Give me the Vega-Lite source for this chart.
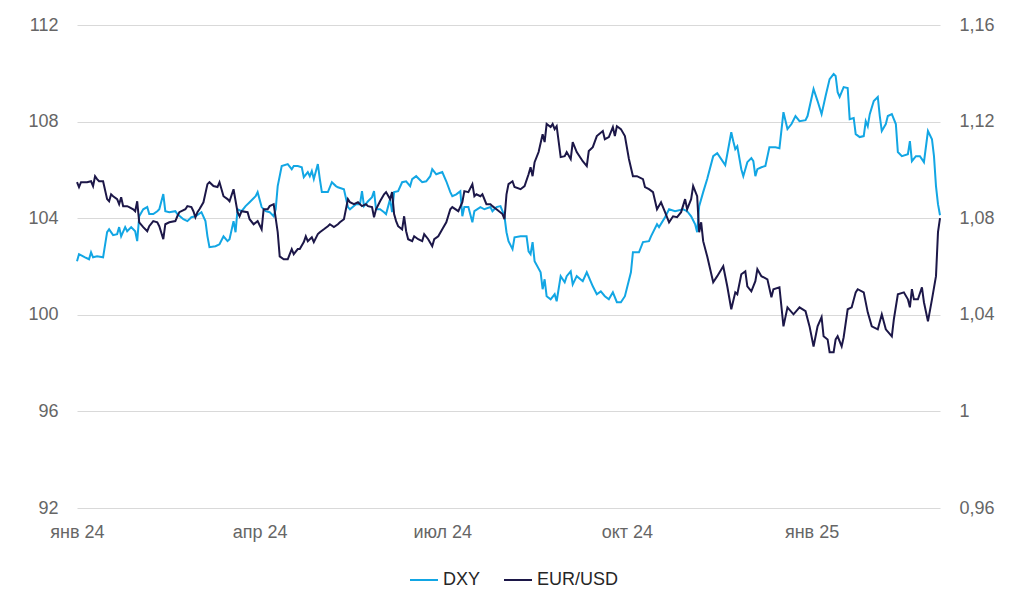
{
  "$schema": "https://vega.github.io/schema/vega-lite/v6.json",
  "width": 863,
  "height": 483,
  "autosize": "none",
  "padding": {"left": 77, "top": 25, "right": 84, "bottom": 95},
  "background": "#ffffff",
  "config": {
    "font": "Liberation Sans",
    "view": {"stroke": null},
    "locale": {
      "number": {"decimal": ",", "thousands": " ", "grouping": [3], "currency": ["", " ₽"]}
    }
  },
  "datasets": {
    "dxy": [
      {"date": "2024-01-01", "series": "DXY", "value": 102.22},
      {"date": "2024-01-02", "series": "DXY", "value": 102.51},
      {"date": "2024-01-05", "series": "DXY", "value": 102.38},
      {"date": "2024-01-07", "series": "DXY", "value": 102.30},
      {"date": "2024-01-08", "series": "DXY", "value": 102.59},
      {"date": "2024-01-09", "series": "DXY", "value": 102.38},
      {"date": "2024-01-11", "series": "DXY", "value": 102.42},
      {"date": "2024-01-14", "series": "DXY", "value": 102.38},
      {"date": "2024-01-16", "series": "DXY", "value": 103.42},
      {"date": "2024-01-17", "series": "DXY", "value": 103.54},
      {"date": "2024-01-19", "series": "DXY", "value": 103.30},
      {"date": "2024-01-21", "series": "DXY", "value": 103.34},
      {"date": "2024-01-22", "series": "DXY", "value": 103.63},
      {"date": "2024-01-23", "series": "DXY", "value": 103.25},
      {"date": "2024-01-25", "series": "DXY", "value": 103.63},
      {"date": "2024-01-26", "series": "DXY", "value": 103.46},
      {"date": "2024-01-28", "series": "DXY", "value": 103.63},
      {"date": "2024-01-30", "series": "DXY", "value": 103.46},
      {"date": "2024-01-31", "series": "DXY", "value": 103.05},
      {"date": "2024-02-01", "series": "DXY", "value": 104.08},
      {"date": "2024-02-03", "series": "DXY", "value": 104.37},
      {"date": "2024-02-05", "series": "DXY", "value": 104.46},
      {"date": "2024-02-06", "series": "DXY", "value": 104.17},
      {"date": "2024-02-08", "series": "DXY", "value": 104.17},
      {"date": "2024-02-10", "series": "DXY", "value": 104.29},
      {"date": "2024-02-11", "series": "DXY", "value": 104.37},
      {"date": "2024-02-13", "series": "DXY", "value": 105.00},
      {"date": "2024-02-14", "series": "DXY", "value": 104.29},
      {"date": "2024-02-16", "series": "DXY", "value": 104.25},
      {"date": "2024-02-19", "series": "DXY", "value": 104.29},
      {"date": "2024-02-20", "series": "DXY", "value": 104.17},
      {"date": "2024-02-23", "series": "DXY", "value": 103.96},
      {"date": "2024-02-25", "series": "DXY", "value": 103.88},
      {"date": "2024-02-27", "series": "DXY", "value": 104.04},
      {"date": "2024-02-29", "series": "DXY", "value": 104.08},
      {"date": "2024-03-03", "series": "DXY", "value": 104.25},
      {"date": "2024-03-05", "series": "DXY", "value": 103.88},
      {"date": "2024-03-06", "series": "DXY", "value": 103.25},
      {"date": "2024-03-07", "series": "DXY", "value": 102.80},
      {"date": "2024-03-10", "series": "DXY", "value": 102.84},
      {"date": "2024-03-12", "series": "DXY", "value": 102.92},
      {"date": "2024-03-14", "series": "DXY", "value": 103.25},
      {"date": "2024-03-16", "series": "DXY", "value": 103.05},
      {"date": "2024-03-17", "series": "DXY", "value": 103.13},
      {"date": "2024-03-19", "series": "DXY", "value": 103.88},
      {"date": "2024-03-20", "series": "DXY", "value": 103.42},
      {"date": "2024-03-21", "series": "DXY", "value": 104.37},
      {"date": "2024-03-23", "series": "DXY", "value": 104.29},
      {"date": "2024-03-25", "series": "DXY", "value": 104.50},
      {"date": "2024-03-27", "series": "DXY", "value": 104.66},
      {"date": "2024-03-30", "series": "DXY", "value": 104.91},
      {"date": "2024-03-31", "series": "DXY", "value": 105.08},
      {"date": "2024-04-02", "series": "DXY", "value": 104.46},
      {"date": "2024-04-04", "series": "DXY", "value": 104.29},
      {"date": "2024-04-06", "series": "DXY", "value": 104.25},
      {"date": "2024-04-08", "series": "DXY", "value": 104.08},
      {"date": "2024-04-09", "series": "DXY", "value": 104.37},
      {"date": "2024-04-10", "series": "DXY", "value": 105.33},
      {"date": "2024-04-12", "series": "DXY", "value": 106.16},
      {"date": "2024-04-15", "series": "DXY", "value": 106.24},
      {"date": "2024-04-17", "series": "DXY", "value": 106.03},
      {"date": "2024-04-18", "series": "DXY", "value": 106.16},
      {"date": "2024-04-20", "series": "DXY", "value": 106.16},
      {"date": "2024-04-22", "series": "DXY", "value": 106.11},
      {"date": "2024-04-23", "series": "DXY", "value": 105.70},
      {"date": "2024-04-25", "series": "DXY", "value": 105.91},
      {"date": "2024-04-26", "series": "DXY", "value": 105.74},
      {"date": "2024-04-27", "series": "DXY", "value": 105.95},
      {"date": "2024-04-28", "series": "DXY", "value": 105.62},
      {"date": "2024-04-30", "series": "DXY", "value": 106.24},
      {"date": "2024-05-01", "series": "DXY", "value": 105.62},
      {"date": "2024-05-02", "series": "DXY", "value": 105.08},
      {"date": "2024-05-05", "series": "DXY", "value": 105.08},
      {"date": "2024-05-07", "series": "DXY", "value": 105.49},
      {"date": "2024-05-09", "series": "DXY", "value": 105.33},
      {"date": "2024-05-10", "series": "DXY", "value": 105.28},
      {"date": "2024-05-13", "series": "DXY", "value": 105.20},
      {"date": "2024-05-15", "series": "DXY", "value": 104.46},
      {"date": "2024-05-16", "series": "DXY", "value": 104.37},
      {"date": "2024-05-19", "series": "DXY", "value": 104.58},
      {"date": "2024-05-21", "series": "DXY", "value": 104.58},
      {"date": "2024-05-22", "series": "DXY", "value": 105.12},
      {"date": "2024-05-23", "series": "DXY", "value": 104.50},
      {"date": "2024-05-25", "series": "DXY", "value": 104.70},
      {"date": "2024-05-27", "series": "DXY", "value": 104.87},
      {"date": "2024-05-28", "series": "DXY", "value": 105.12},
      {"date": "2024-05-29", "series": "DXY", "value": 104.37},
      {"date": "2024-05-31", "series": "DXY", "value": 104.37},
      {"date": "2024-06-02", "series": "DXY", "value": 104.25},
      {"date": "2024-06-03", "series": "DXY", "value": 104.17},
      {"date": "2024-06-05", "series": "DXY", "value": 104.79},
      {"date": "2024-06-06", "series": "DXY", "value": 104.25},
      {"date": "2024-06-07", "series": "DXY", "value": 105.08},
      {"date": "2024-06-09", "series": "DXY", "value": 105.12},
      {"date": "2024-06-11", "series": "DXY", "value": 105.49},
      {"date": "2024-06-13", "series": "DXY", "value": 105.53},
      {"date": "2024-06-15", "series": "DXY", "value": 105.33},
      {"date": "2024-06-16", "series": "DXY", "value": 105.62},
      {"date": "2024-06-18", "series": "DXY", "value": 105.74},
      {"date": "2024-06-21", "series": "DXY", "value": 105.49},
      {"date": "2024-06-23", "series": "DXY", "value": 105.53},
      {"date": "2024-06-25", "series": "DXY", "value": 105.74},
      {"date": "2024-06-26", "series": "DXY", "value": 106.03},
      {"date": "2024-06-28", "series": "DXY", "value": 105.82},
      {"date": "2024-07-01", "series": "DXY", "value": 105.91},
      {"date": "2024-07-03", "series": "DXY", "value": 105.53},
      {"date": "2024-07-05", "series": "DXY", "value": 105.08},
      {"date": "2024-07-06", "series": "DXY", "value": 104.91},
      {"date": "2024-07-08", "series": "DXY", "value": 104.99},
      {"date": "2024-07-10", "series": "DXY", "value": 105.12},
      {"date": "2024-07-11", "series": "DXY", "value": 104.08},
      {"date": "2024-07-12", "series": "DXY", "value": 104.46},
      {"date": "2024-07-14", "series": "DXY", "value": 104.46},
      {"date": "2024-07-16", "series": "DXY", "value": 103.83},
      {"date": "2024-07-17", "series": "DXY", "value": 104.29},
      {"date": "2024-07-20", "series": "DXY", "value": 104.46},
      {"date": "2024-07-22", "series": "DXY", "value": 104.37},
      {"date": "2024-07-25", "series": "DXY", "value": 104.46},
      {"date": "2024-07-26", "series": "DXY", "value": 104.29},
      {"date": "2024-07-28", "series": "DXY", "value": 104.46},
      {"date": "2024-07-30", "series": "DXY", "value": 104.50},
      {"date": "2024-07-31", "series": "DXY", "value": 104.29},
      {"date": "2024-08-01", "series": "DXY", "value": 104.08},
      {"date": "2024-08-02", "series": "DXY", "value": 103.42},
      {"date": "2024-08-03", "series": "DXY", "value": 103.05},
      {"date": "2024-08-05", "series": "DXY", "value": 102.72},
      {"date": "2024-08-06", "series": "DXY", "value": 103.21},
      {"date": "2024-08-09", "series": "DXY", "value": 103.25},
      {"date": "2024-08-12", "series": "DXY", "value": 103.25},
      {"date": "2024-08-13", "series": "DXY", "value": 102.63},
      {"date": "2024-08-14", "series": "DXY", "value": 102.51},
      {"date": "2024-08-15", "series": "DXY", "value": 103.01},
      {"date": "2024-08-16", "series": "DXY", "value": 102.22},
      {"date": "2024-08-19", "series": "DXY", "value": 101.76},
      {"date": "2024-08-20", "series": "DXY", "value": 101.06},
      {"date": "2024-08-21", "series": "DXY", "value": 101.47},
      {"date": "2024-08-22", "series": "DXY", "value": 100.77},
      {"date": "2024-08-24", "series": "DXY", "value": 100.64},
      {"date": "2024-08-26", "series": "DXY", "value": 100.85},
      {"date": "2024-08-27", "series": "DXY", "value": 100.56},
      {"date": "2024-08-29", "series": "DXY", "value": 101.60},
      {"date": "2024-08-31", "series": "DXY", "value": 101.35},
      {"date": "2024-09-01", "series": "DXY", "value": 101.60},
      {"date": "2024-09-03", "series": "DXY", "value": 101.80},
      {"date": "2024-09-04", "series": "DXY", "value": 101.26},
      {"date": "2024-09-06", "series": "DXY", "value": 101.60},
      {"date": "2024-09-09", "series": "DXY", "value": 101.39},
      {"date": "2024-09-11", "series": "DXY", "value": 101.76},
      {"date": "2024-09-14", "series": "DXY", "value": 101.18},
      {"date": "2024-09-16", "series": "DXY", "value": 100.85},
      {"date": "2024-09-18", "series": "DXY", "value": 100.97},
      {"date": "2024-09-20", "series": "DXY", "value": 100.77},
      {"date": "2024-09-22", "series": "DXY", "value": 100.64},
      {"date": "2024-09-24", "series": "DXY", "value": 100.93},
      {"date": "2024-09-26", "series": "DXY", "value": 100.52},
      {"date": "2024-09-28", "series": "DXY", "value": 100.52},
      {"date": "2024-09-30", "series": "DXY", "value": 100.77},
      {"date": "2024-10-03", "series": "DXY", "value": 101.76},
      {"date": "2024-10-04", "series": "DXY", "value": 102.59},
      {"date": "2024-10-07", "series": "DXY", "value": 102.59},
      {"date": "2024-10-09", "series": "DXY", "value": 103.01},
      {"date": "2024-10-12", "series": "DXY", "value": 103.05},
      {"date": "2024-10-13", "series": "DXY", "value": 103.25},
      {"date": "2024-10-16", "series": "DXY", "value": 103.75},
      {"date": "2024-10-17", "series": "DXY", "value": 103.63},
      {"date": "2024-10-20", "series": "DXY", "value": 104.04},
      {"date": "2024-10-22", "series": "DXY", "value": 104.37},
      {"date": "2024-10-25", "series": "DXY", "value": 104.29},
      {"date": "2024-10-29", "series": "DXY", "value": 104.37},
      {"date": "2024-10-31", "series": "DXY", "value": 104.29},
      {"date": "2024-11-02", "series": "DXY", "value": 104.08},
      {"date": "2024-11-04", "series": "DXY", "value": 103.75},
      {"date": "2024-11-05", "series": "DXY", "value": 103.42},
      {"date": "2024-11-06", "series": "DXY", "value": 104.50},
      {"date": "2024-11-08", "series": "DXY", "value": 105.08},
      {"date": "2024-11-10", "series": "DXY", "value": 105.62},
      {"date": "2024-11-13", "series": "DXY", "value": 106.57},
      {"date": "2024-11-15", "series": "DXY", "value": 106.69},
      {"date": "2024-11-19", "series": "DXY", "value": 106.20},
      {"date": "2024-11-20", "series": "DXY", "value": 106.65},
      {"date": "2024-11-22", "series": "DXY", "value": 107.56},
      {"date": "2024-11-23", "series": "DXY", "value": 107.19},
      {"date": "2024-11-24", "series": "DXY", "value": 106.86},
      {"date": "2024-11-25", "series": "DXY", "value": 106.98},
      {"date": "2024-11-27", "series": "DXY", "value": 106.03},
      {"date": "2024-11-28", "series": "DXY", "value": 105.74},
      {"date": "2024-11-30", "series": "DXY", "value": 106.32},
      {"date": "2024-12-02", "series": "DXY", "value": 106.49},
      {"date": "2024-12-03", "series": "DXY", "value": 106.36},
      {"date": "2024-12-04", "series": "DXY", "value": 105.74},
      {"date": "2024-12-05", "series": "DXY", "value": 106.03},
      {"date": "2024-12-07", "series": "DXY", "value": 106.11},
      {"date": "2024-12-09", "series": "DXY", "value": 106.16},
      {"date": "2024-12-11", "series": "DXY", "value": 106.94},
      {"date": "2024-12-14", "series": "DXY", "value": 106.94},
      {"date": "2024-12-16", "series": "DXY", "value": 106.90},
      {"date": "2024-12-18", "series": "DXY", "value": 108.39},
      {"date": "2024-12-20", "series": "DXY", "value": 107.69},
      {"date": "2024-12-22", "series": "DXY", "value": 107.90},
      {"date": "2024-12-24", "series": "DXY", "value": 108.23},
      {"date": "2024-12-26", "series": "DXY", "value": 108.02},
      {"date": "2024-12-29", "series": "DXY", "value": 108.06},
      {"date": "2024-12-30", "series": "DXY", "value": 108.23},
      {"date": "2025-01-02", "series": "DXY", "value": 109.35},
      {"date": "2025-01-04", "series": "DXY", "value": 108.85},
      {"date": "2025-01-06", "series": "DXY", "value": 108.31},
      {"date": "2025-01-08", "series": "DXY", "value": 109.06},
      {"date": "2025-01-10", "series": "DXY", "value": 109.76},
      {"date": "2025-01-12", "series": "DXY", "value": 109.97},
      {"date": "2025-01-13", "series": "DXY", "value": 109.89},
      {"date": "2025-01-14", "series": "DXY", "value": 109.22},
      {"date": "2025-01-15", "series": "DXY", "value": 109.02},
      {"date": "2025-01-17", "series": "DXY", "value": 109.43},
      {"date": "2025-01-19", "series": "DXY", "value": 109.39},
      {"date": "2025-01-20", "series": "DXY", "value": 108.10},
      {"date": "2025-01-22", "series": "DXY", "value": 108.15},
      {"date": "2025-01-23", "series": "DXY", "value": 107.48},
      {"date": "2025-01-25", "series": "DXY", "value": 107.36},
      {"date": "2025-01-27", "series": "DXY", "value": 107.40},
      {"date": "2025-01-28", "series": "DXY", "value": 108.02},
      {"date": "2025-01-29", "series": "DXY", "value": 107.81},
      {"date": "2025-01-30", "series": "DXY", "value": 108.31},
      {"date": "2025-02-01", "series": "DXY", "value": 108.85},
      {"date": "2025-02-03", "series": "DXY", "value": 109.02},
      {"date": "2025-02-04", "series": "DXY", "value": 108.23},
      {"date": "2025-02-05", "series": "DXY", "value": 107.61},
      {"date": "2025-02-07", "series": "DXY", "value": 107.90},
      {"date": "2025-02-08", "series": "DXY", "value": 108.23},
      {"date": "2025-02-10", "series": "DXY", "value": 108.31},
      {"date": "2025-02-12", "series": "DXY", "value": 107.90},
      {"date": "2025-02-13", "series": "DXY", "value": 106.74},
      {"date": "2025-02-15", "series": "DXY", "value": 106.57},
      {"date": "2025-02-18", "series": "DXY", "value": 106.65},
      {"date": "2025-02-19", "series": "DXY", "value": 107.19},
      {"date": "2025-02-20", "series": "DXY", "value": 106.36},
      {"date": "2025-02-22", "series": "DXY", "value": 106.57},
      {"date": "2025-02-24", "series": "DXY", "value": 106.57},
      {"date": "2025-02-26", "series": "DXY", "value": 106.32},
      {"date": "2025-02-28", "series": "DXY", "value": 107.61},
      {"date": "2025-03-02", "series": "DXY", "value": 107.27},
      {"date": "2025-03-03", "series": "DXY", "value": 106.57},
      {"date": "2025-03-04", "series": "DXY", "value": 105.33},
      {"date": "2025-03-05", "series": "DXY", "value": 104.58},
      {"date": "2025-03-06", "series": "DXY", "value": 104.12}
    ],
    "eurusd": [
      {"date": "2024-01-01", "series": "EUR/USD", "value": 1.0949},
      {"date": "2024-01-02", "series": "EUR/USD", "value": 1.0929},
      {"date": "2024-01-03", "series": "EUR/USD", "value": 1.0949},
      {"date": "2024-01-06", "series": "EUR/USD", "value": 1.0949},
      {"date": "2024-01-08", "series": "EUR/USD", "value": 1.0953},
      {"date": "2024-01-09", "series": "EUR/USD", "value": 1.0933},
      {"date": "2024-01-10", "series": "EUR/USD", "value": 1.0974},
      {"date": "2024-01-11", "series": "EUR/USD", "value": 1.0962},
      {"date": "2024-01-12", "series": "EUR/USD", "value": 1.0953},
      {"date": "2024-01-14", "series": "EUR/USD", "value": 1.0953},
      {"date": "2024-01-16", "series": "EUR/USD", "value": 1.0879},
      {"date": "2024-01-17", "series": "EUR/USD", "value": 1.0870},
      {"date": "2024-01-18", "series": "EUR/USD", "value": 1.0899},
      {"date": "2024-01-19", "series": "EUR/USD", "value": 1.0891},
      {"date": "2024-01-21", "series": "EUR/USD", "value": 1.0879},
      {"date": "2024-01-22", "series": "EUR/USD", "value": 1.0858},
      {"date": "2024-01-23", "series": "EUR/USD", "value": 1.0887},
      {"date": "2024-01-24", "series": "EUR/USD", "value": 1.0850},
      {"date": "2024-01-26", "series": "EUR/USD", "value": 1.0850},
      {"date": "2024-01-27", "series": "EUR/USD", "value": 1.0846},
      {"date": "2024-01-29", "series": "EUR/USD", "value": 1.0837},
      {"date": "2024-01-30", "series": "EUR/USD", "value": 1.0829},
      {"date": "2024-01-31", "series": "EUR/USD", "value": 1.0870},
      {"date": "2024-02-01", "series": "EUR/USD", "value": 1.0783},
      {"date": "2024-02-03", "series": "EUR/USD", "value": 1.0763},
      {"date": "2024-02-05", "series": "EUR/USD", "value": 1.0746},
      {"date": "2024-02-06", "series": "EUR/USD", "value": 1.0767},
      {"date": "2024-02-08", "series": "EUR/USD", "value": 1.0788},
      {"date": "2024-02-10", "series": "EUR/USD", "value": 1.0783},
      {"date": "2024-02-11", "series": "EUR/USD", "value": 1.0767},
      {"date": "2024-02-13", "series": "EUR/USD", "value": 1.0713},
      {"date": "2024-02-14", "series": "EUR/USD", "value": 1.0775},
      {"date": "2024-02-16", "series": "EUR/USD", "value": 1.0783},
      {"date": "2024-02-19", "series": "EUR/USD", "value": 1.0788},
      {"date": "2024-02-20", "series": "EUR/USD", "value": 1.0808},
      {"date": "2024-02-21", "series": "EUR/USD", "value": 1.0825},
      {"date": "2024-02-24", "series": "EUR/USD", "value": 1.0837},
      {"date": "2024-02-25", "series": "EUR/USD", "value": 1.0850},
      {"date": "2024-02-27", "series": "EUR/USD", "value": 1.0846},
      {"date": "2024-02-28", "series": "EUR/USD", "value": 1.0829},
      {"date": "2024-02-29", "series": "EUR/USD", "value": 1.0804},
      {"date": "2024-03-01", "series": "EUR/USD", "value": 1.0825},
      {"date": "2024-03-02", "series": "EUR/USD", "value": 1.0837},
      {"date": "2024-03-04", "series": "EUR/USD", "value": 1.0866},
      {"date": "2024-03-06", "series": "EUR/USD", "value": 1.0941},
      {"date": "2024-03-07", "series": "EUR/USD", "value": 1.0949},
      {"date": "2024-03-09", "series": "EUR/USD", "value": 1.0933},
      {"date": "2024-03-11", "series": "EUR/USD", "value": 1.0929},
      {"date": "2024-03-12", "series": "EUR/USD", "value": 1.0949},
      {"date": "2024-03-14", "series": "EUR/USD", "value": 1.0891},
      {"date": "2024-03-16", "series": "EUR/USD", "value": 1.0879},
      {"date": "2024-03-17", "series": "EUR/USD", "value": 1.0870},
      {"date": "2024-03-19", "series": "EUR/USD", "value": 1.0920},
      {"date": "2024-03-21", "series": "EUR/USD", "value": 1.0825},
      {"date": "2024-03-22", "series": "EUR/USD", "value": 1.0808},
      {"date": "2024-03-23", "series": "EUR/USD", "value": 1.0829},
      {"date": "2024-03-26", "series": "EUR/USD", "value": 1.0825},
      {"date": "2024-03-27", "series": "EUR/USD", "value": 1.0796},
      {"date": "2024-03-29", "series": "EUR/USD", "value": 1.0775},
      {"date": "2024-03-31", "series": "EUR/USD", "value": 1.0788},
      {"date": "2024-04-02", "series": "EUR/USD", "value": 1.0754},
      {"date": "2024-04-03", "series": "EUR/USD", "value": 1.0837},
      {"date": "2024-04-05", "series": "EUR/USD", "value": 1.0837},
      {"date": "2024-04-06", "series": "EUR/USD", "value": 1.0850},
      {"date": "2024-04-08", "series": "EUR/USD", "value": 1.0858},
      {"date": "2024-04-10", "series": "EUR/USD", "value": 1.0742},
      {"date": "2024-04-11", "series": "EUR/USD", "value": 1.0642},
      {"date": "2024-04-13", "series": "EUR/USD", "value": 1.0630},
      {"date": "2024-04-15", "series": "EUR/USD", "value": 1.0630},
      {"date": "2024-04-17", "series": "EUR/USD", "value": 1.0672},
      {"date": "2024-04-18", "series": "EUR/USD", "value": 1.0651},
      {"date": "2024-04-20", "series": "EUR/USD", "value": 1.0672},
      {"date": "2024-04-21", "series": "EUR/USD", "value": 1.0672},
      {"date": "2024-04-23", "series": "EUR/USD", "value": 1.0701},
      {"date": "2024-04-24", "series": "EUR/USD", "value": 1.0725},
      {"date": "2024-04-25", "series": "EUR/USD", "value": 1.0705},
      {"date": "2024-04-27", "series": "EUR/USD", "value": 1.0721},
      {"date": "2024-04-28", "series": "EUR/USD", "value": 1.0701},
      {"date": "2024-04-30", "series": "EUR/USD", "value": 1.0734},
      {"date": "2024-05-01", "series": "EUR/USD", "value": 1.0742},
      {"date": "2024-05-03", "series": "EUR/USD", "value": 1.0754},
      {"date": "2024-05-05", "series": "EUR/USD", "value": 1.0767},
      {"date": "2024-05-06", "series": "EUR/USD", "value": 1.0775},
      {"date": "2024-05-08", "series": "EUR/USD", "value": 1.0763},
      {"date": "2024-05-10", "series": "EUR/USD", "value": 1.0775},
      {"date": "2024-05-11", "series": "EUR/USD", "value": 1.0783},
      {"date": "2024-05-13", "series": "EUR/USD", "value": 1.0796},
      {"date": "2024-05-15", "series": "EUR/USD", "value": 1.0879},
      {"date": "2024-05-16", "series": "EUR/USD", "value": 1.0866},
      {"date": "2024-05-18", "series": "EUR/USD", "value": 1.0858},
      {"date": "2024-05-20", "series": "EUR/USD", "value": 1.0866},
      {"date": "2024-05-22", "series": "EUR/USD", "value": 1.0850},
      {"date": "2024-05-24", "series": "EUR/USD", "value": 1.0858},
      {"date": "2024-05-25", "series": "EUR/USD", "value": 1.0850},
      {"date": "2024-05-27", "series": "EUR/USD", "value": 1.0846},
      {"date": "2024-05-28", "series": "EUR/USD", "value": 1.0804},
      {"date": "2024-05-29", "series": "EUR/USD", "value": 1.0837},
      {"date": "2024-05-31", "series": "EUR/USD", "value": 1.0870},
      {"date": "2024-06-02", "series": "EUR/USD", "value": 1.0899},
      {"date": "2024-06-03", "series": "EUR/USD", "value": 1.0908},
      {"date": "2024-06-05", "series": "EUR/USD", "value": 1.0879},
      {"date": "2024-06-06", "series": "EUR/USD", "value": 1.0908},
      {"date": "2024-06-07", "series": "EUR/USD", "value": 1.0817},
      {"date": "2024-06-08", "series": "EUR/USD", "value": 1.0788},
      {"date": "2024-06-09", "series": "EUR/USD", "value": 1.0767},
      {"date": "2024-06-11", "series": "EUR/USD", "value": 1.0754},
      {"date": "2024-06-12", "series": "EUR/USD", "value": 1.0808},
      {"date": "2024-06-13", "series": "EUR/USD", "value": 1.0746},
      {"date": "2024-06-14", "series": "EUR/USD", "value": 1.0713},
      {"date": "2024-06-16", "series": "EUR/USD", "value": 1.0705},
      {"date": "2024-06-17", "series": "EUR/USD", "value": 1.0725},
      {"date": "2024-06-19", "series": "EUR/USD", "value": 1.0713},
      {"date": "2024-06-21", "series": "EUR/USD", "value": 1.0705},
      {"date": "2024-06-22", "series": "EUR/USD", "value": 1.0734},
      {"date": "2024-06-24", "series": "EUR/USD", "value": 1.0713},
      {"date": "2024-06-26", "series": "EUR/USD", "value": 1.0684},
      {"date": "2024-06-27", "series": "EUR/USD", "value": 1.0713},
      {"date": "2024-06-29", "series": "EUR/USD", "value": 1.0725},
      {"date": "2024-07-01", "series": "EUR/USD", "value": 1.0754},
      {"date": "2024-07-03", "series": "EUR/USD", "value": 1.0783},
      {"date": "2024-07-05", "series": "EUR/USD", "value": 1.0837},
      {"date": "2024-07-06", "series": "EUR/USD", "value": 1.0846},
      {"date": "2024-07-09", "series": "EUR/USD", "value": 1.0829},
      {"date": "2024-07-11", "series": "EUR/USD", "value": 1.0866},
      {"date": "2024-07-12", "series": "EUR/USD", "value": 1.0912},
      {"date": "2024-07-14", "series": "EUR/USD", "value": 1.0908},
      {"date": "2024-07-16", "series": "EUR/USD", "value": 1.0941},
      {"date": "2024-07-17", "series": "EUR/USD", "value": 1.0891},
      {"date": "2024-07-18", "series": "EUR/USD", "value": 1.0899},
      {"date": "2024-07-20", "series": "EUR/USD", "value": 1.0891},
      {"date": "2024-07-21", "series": "EUR/USD", "value": 1.0899},
      {"date": "2024-07-23", "series": "EUR/USD", "value": 1.0858},
      {"date": "2024-07-25", "series": "EUR/USD", "value": 1.0858},
      {"date": "2024-07-26", "series": "EUR/USD", "value": 1.0850},
      {"date": "2024-07-28", "series": "EUR/USD", "value": 1.0837},
      {"date": "2024-07-31", "series": "EUR/USD", "value": 1.0817},
      {"date": "2024-08-01", "series": "EUR/USD", "value": 1.0796},
      {"date": "2024-08-02", "series": "EUR/USD", "value": 1.0899},
      {"date": "2024-08-03", "series": "EUR/USD", "value": 1.0941},
      {"date": "2024-08-05", "series": "EUR/USD", "value": 1.0953},
      {"date": "2024-08-06", "series": "EUR/USD", "value": 1.0929},
      {"date": "2024-08-09", "series": "EUR/USD", "value": 1.0920},
      {"date": "2024-08-11", "series": "EUR/USD", "value": 1.0933},
      {"date": "2024-08-13", "series": "EUR/USD", "value": 1.0982},
      {"date": "2024-08-14", "series": "EUR/USD", "value": 1.1011},
      {"date": "2024-08-15", "series": "EUR/USD", "value": 1.0974},
      {"date": "2024-08-16", "series": "EUR/USD", "value": 1.1032},
      {"date": "2024-08-18", "series": "EUR/USD", "value": 1.1074},
      {"date": "2024-08-20", "series": "EUR/USD", "value": 1.1148},
      {"date": "2024-08-21", "series": "EUR/USD", "value": 1.1115},
      {"date": "2024-08-22", "series": "EUR/USD", "value": 1.1190},
      {"date": "2024-08-24", "series": "EUR/USD", "value": 1.1177},
      {"date": "2024-08-25", "series": "EUR/USD", "value": 1.1190},
      {"date": "2024-08-26", "series": "EUR/USD", "value": 1.1169},
      {"date": "2024-08-27", "series": "EUR/USD", "value": 1.1181},
      {"date": "2024-08-29", "series": "EUR/USD", "value": 1.1053},
      {"date": "2024-08-31", "series": "EUR/USD", "value": 1.1057},
      {"date": "2024-09-01", "series": "EUR/USD", "value": 1.1074},
      {"date": "2024-09-03", "series": "EUR/USD", "value": 1.1045},
      {"date": "2024-09-04", "series": "EUR/USD", "value": 1.1115},
      {"date": "2024-09-06", "series": "EUR/USD", "value": 1.1074},
      {"date": "2024-09-09", "series": "EUR/USD", "value": 1.1036},
      {"date": "2024-09-11", "series": "EUR/USD", "value": 1.1016},
      {"date": "2024-09-12", "series": "EUR/USD", "value": 1.1078},
      {"date": "2024-09-14", "series": "EUR/USD", "value": 1.1094},
      {"date": "2024-09-16", "series": "EUR/USD", "value": 1.1140},
      {"date": "2024-09-19", "series": "EUR/USD", "value": 1.1161},
      {"date": "2024-09-20", "series": "EUR/USD", "value": 1.1127},
      {"date": "2024-09-22", "series": "EUR/USD", "value": 1.1136},
      {"date": "2024-09-24", "series": "EUR/USD", "value": 1.1177},
      {"date": "2024-09-25", "series": "EUR/USD", "value": 1.1140},
      {"date": "2024-09-26", "series": "EUR/USD", "value": 1.1181},
      {"date": "2024-09-28", "series": "EUR/USD", "value": 1.1169},
      {"date": "2024-09-30", "series": "EUR/USD", "value": 1.1140},
      {"date": "2024-10-02", "series": "EUR/USD", "value": 1.1045},
      {"date": "2024-10-04", "series": "EUR/USD", "value": 1.0974},
      {"date": "2024-10-06", "series": "EUR/USD", "value": 1.0974},
      {"date": "2024-10-09", "series": "EUR/USD", "value": 1.0962},
      {"date": "2024-10-10", "series": "EUR/USD", "value": 1.0929},
      {"date": "2024-10-12", "series": "EUR/USD", "value": 1.0920},
      {"date": "2024-10-14", "series": "EUR/USD", "value": 1.0908},
      {"date": "2024-10-16", "series": "EUR/USD", "value": 1.0837},
      {"date": "2024-10-18", "series": "EUR/USD", "value": 1.0866},
      {"date": "2024-10-20", "series": "EUR/USD", "value": 1.0825},
      {"date": "2024-10-22", "series": "EUR/USD", "value": 1.0783},
      {"date": "2024-10-24", "series": "EUR/USD", "value": 1.0808},
      {"date": "2024-10-26", "series": "EUR/USD", "value": 1.0804},
      {"date": "2024-10-28", "series": "EUR/USD", "value": 1.0825},
      {"date": "2024-10-30", "series": "EUR/USD", "value": 1.0879},
      {"date": "2024-10-31", "series": "EUR/USD", "value": 1.0837},
      {"date": "2024-11-02", "series": "EUR/USD", "value": 1.0879},
      {"date": "2024-11-03", "series": "EUR/USD", "value": 1.0933},
      {"date": "2024-11-05", "series": "EUR/USD", "value": 1.0891},
      {"date": "2024-11-06", "series": "EUR/USD", "value": 1.0742},
      {"date": "2024-11-07", "series": "EUR/USD", "value": 1.0783},
      {"date": "2024-11-08", "series": "EUR/USD", "value": 1.0705},
      {"date": "2024-11-10", "series": "EUR/USD", "value": 1.0642},
      {"date": "2024-11-13", "series": "EUR/USD", "value": 1.0535},
      {"date": "2024-11-15", "series": "EUR/USD", "value": 1.0560},
      {"date": "2024-11-18", "series": "EUR/USD", "value": 1.0601},
      {"date": "2024-11-20", "series": "EUR/USD", "value": 1.0518},
      {"date": "2024-11-22", "series": "EUR/USD", "value": 1.0423},
      {"date": "2024-11-24", "series": "EUR/USD", "value": 1.0493},
      {"date": "2024-11-25", "series": "EUR/USD", "value": 1.0485},
      {"date": "2024-11-27", "series": "EUR/USD", "value": 1.0568},
      {"date": "2024-11-29", "series": "EUR/USD", "value": 1.0580},
      {"date": "2024-11-30", "series": "EUR/USD", "value": 1.0518},
      {"date": "2024-12-02", "series": "EUR/USD", "value": 1.0497},
      {"date": "2024-12-04", "series": "EUR/USD", "value": 1.0539},
      {"date": "2024-12-05", "series": "EUR/USD", "value": 1.0589},
      {"date": "2024-12-07", "series": "EUR/USD", "value": 1.0560},
      {"date": "2024-12-10", "series": "EUR/USD", "value": 1.0547},
      {"date": "2024-12-12", "series": "EUR/USD", "value": 1.0473},
      {"date": "2024-12-13", "series": "EUR/USD", "value": 1.0506},
      {"date": "2024-12-16", "series": "EUR/USD", "value": 1.0514},
      {"date": "2024-12-18", "series": "EUR/USD", "value": 1.0352},
      {"date": "2024-12-20", "series": "EUR/USD", "value": 1.0431},
      {"date": "2024-12-23", "series": "EUR/USD", "value": 1.0402},
      {"date": "2024-12-26", "series": "EUR/USD", "value": 1.0431},
      {"date": "2024-12-29", "series": "EUR/USD", "value": 1.0415},
      {"date": "2024-12-31", "series": "EUR/USD", "value": 1.0352},
      {"date": "2025-01-02", "series": "EUR/USD", "value": 1.0269},
      {"date": "2025-01-04", "series": "EUR/USD", "value": 1.0352},
      {"date": "2025-01-06", "series": "EUR/USD", "value": 1.0390},
      {"date": "2025-01-07", "series": "EUR/USD", "value": 1.0311},
      {"date": "2025-01-09", "series": "EUR/USD", "value": 1.0298},
      {"date": "2025-01-10", "series": "EUR/USD", "value": 1.0245},
      {"date": "2025-01-12", "series": "EUR/USD", "value": 1.0245},
      {"date": "2025-01-13", "series": "EUR/USD", "value": 1.0298},
      {"date": "2025-01-14", "series": "EUR/USD", "value": 1.0311},
      {"date": "2025-01-16", "series": "EUR/USD", "value": 1.0269},
      {"date": "2025-01-17", "series": "EUR/USD", "value": 1.0307},
      {"date": "2025-01-19", "series": "EUR/USD", "value": 1.0423},
      {"date": "2025-01-21", "series": "EUR/USD", "value": 1.0431},
      {"date": "2025-01-23", "series": "EUR/USD", "value": 1.0493},
      {"date": "2025-01-24", "series": "EUR/USD", "value": 1.0506},
      {"date": "2025-01-27", "series": "EUR/USD", "value": 1.0493},
      {"date": "2025-01-29", "series": "EUR/USD", "value": 1.0410},
      {"date": "2025-01-31", "series": "EUR/USD", "value": 1.0352},
      {"date": "2025-02-03", "series": "EUR/USD", "value": 1.0340},
      {"date": "2025-02-05", "series": "EUR/USD", "value": 1.0402},
      {"date": "2025-02-07", "series": "EUR/USD", "value": 1.0340},
      {"date": "2025-02-10", "series": "EUR/USD", "value": 1.0311},
      {"date": "2025-02-11", "series": "EUR/USD", "value": 1.0381},
      {"date": "2025-02-13", "series": "EUR/USD", "value": 1.0485},
      {"date": "2025-02-16", "series": "EUR/USD", "value": 1.0493},
      {"date": "2025-02-18", "series": "EUR/USD", "value": 1.0464},
      {"date": "2025-02-19", "series": "EUR/USD", "value": 1.0431},
      {"date": "2025-02-20", "series": "EUR/USD", "value": 1.0506},
      {"date": "2025-02-21", "series": "EUR/USD", "value": 1.0464},
      {"date": "2025-02-23", "series": "EUR/USD", "value": 1.0464},
      {"date": "2025-02-25", "series": "EUR/USD", "value": 1.0514},
      {"date": "2025-02-26", "series": "EUR/USD", "value": 1.0452},
      {"date": "2025-02-28", "series": "EUR/USD", "value": 1.0373},
      {"date": "2025-03-02", "series": "EUR/USD", "value": 1.0464},
      {"date": "2025-03-04", "series": "EUR/USD", "value": 1.0560},
      {"date": "2025-03-05", "series": "EUR/USD", "value": 1.0742},
      {"date": "2025-03-06", "series": "EUR/USD", "value": 1.0800}
    ]
  },
  "encoding": {
    "x": {
      "field": "date",
      "type": "temporal",
      "scale": {
        "type": "utc",
        "domain": [
          {"year": 2024, "month": 1, "date": 1, "utc": true},
          {"year": 2025, "month": 3, "date": 6, "utc": true}
        ]
      },
      "axis": {
        "title": null,
        "values": [
          {"year": 2024, "month": 1, "date": 1, "utc": true},
          {"year": 2024, "month": 4, "date": 1, "utc": true},
          {"year": 2024, "month": 7, "date": 1, "utc": true},
          {"year": 2024, "month": 10, "date": 1, "utc": true},
          {"year": 2025, "month": 1, "date": 1, "utc": true}
        ],
        "labelExpr": "['янв', 'фев', 'мар', 'апр', 'май', 'июн', 'июл', 'авг', 'сен', 'окт', 'ноя', 'дек'][utcmonth(datum.value)] + ' ' + utcFormat(datum.value, '%y')",
        "grid": false,
        "ticks": false,
        "domain": false,
        "labelFlush": false,
        "labelOverlap": false,
        "labelAlign": "center",
        "labelPadding": 15,
        "labelFontSize": 18,
        "labelColor": "#666666"
      }
    },
    "color": {
      "field": "series",
      "type": "nominal",
      "scale": {"domain": ["DXY", "EUR/USD"], "range": ["#12a6e4", "#1c1748"]},
      "legend": {
        "title": null,
        "orient": "none",
        "legendX": 332,
        "legendY": 540,
        "direction": "horizontal",
        "symbolType": "stroke",
        "symbolSize": 784,
        "symbolStrokeWidth": 2,
        "labelFontSize": 18,
        "labelColor": "#262626",
        "labelOffset": 4,
        "columnPadding": 19
      }
    }
  },
  "layer": [
    {
      "data": {"name": "dxy"},
      "mark": {"type": "line", "strokeWidth": 2},
      "encoding": {
        "y": {
          "field": "value",
          "type": "quantitative",
          "scale": {"domain": [92, 112], "nice": false, "zero": false},
          "axis": {
            "title": null,
            "orient": "left",
            "values": [92, 96, 100, 104, 108, 112],
            "grid": true,
            "gridColor": "#d9d9d9",
            "gridWidth": 1,
            "ticks": false,
            "domain": false,
            "labelPadding": 19,
            "labelFontSize": 18,
            "labelColor": "#666666"
          }
        }
      }
    },
    {
      "data": {"name": "eurusd"},
      "mark": {"type": "line", "strokeWidth": 2},
      "encoding": {
        "y": {
          "field": "value",
          "type": "quantitative",
          "scale": {"domain": [0.96, 1.16], "nice": false, "zero": false},
          "axis": {
            "title": null,
            "orient": "right",
            "values": [0.96, 1, 1.04, 1.08, 1.12, 1.16],
            "format": ".2~f",
            "grid": false,
            "ticks": false,
            "domain": false,
            "labelPadding": 19,
            "labelFontSize": 18,
            "labelColor": "#666666"
          }
        }
      }
    }
  ],
  "resolve": {"scale": {"y": "independent"}}
}
